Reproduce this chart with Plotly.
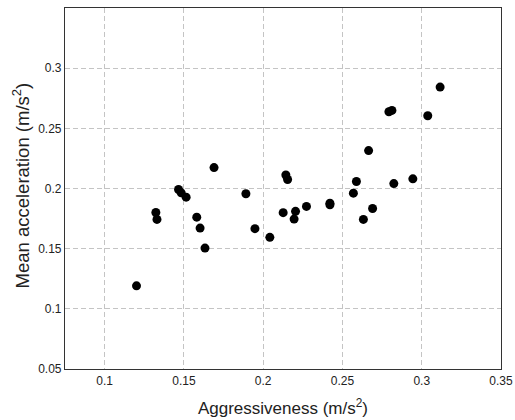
import plotly.graph_objects as go

aggressiveness = [0.1201, 0.1323, 0.1330, 0.1466, 0.1483, 0.1514, 0.1581, 0.1602,
                  0.1633, 0.1690, 0.1891, 0.1948, 0.2042, 0.2126, 0.2143, 0.2154,
                  0.2195, 0.2204, 0.2273, 0.2421, 0.2421, 0.2569, 0.2588, 0.2632,
                  0.2665, 0.2690, 0.2793, 0.2812, 0.2824, 0.2944, 0.3038, 0.3116]
mean_accel = [0.1191, 0.1801, 0.1743, 0.1992, 0.1964, 0.1928, 0.1762, 0.1671,
              0.1505, 0.2174, 0.1956, 0.1666, 0.1594, 0.1799, 0.2112, 0.2075,
              0.1746, 0.1810, 0.1851, 0.1878, 0.1865, 0.1961, 0.2058, 0.1743,
              0.2315, 0.1834, 0.2638, 0.2649, 0.2041, 0.2080, 0.2605, 0.2843]

x_ticks = [0.1, 0.15, 0.2, 0.25, 0.3, 0.35]
y_ticks = [0.05, 0.1, 0.15, 0.2, 0.25, 0.3]

fig = go.Figure(go.Scatter(
    x=aggressiveness, y=mean_accel, mode="markers",
    marker=dict(color="black", size=9, line=dict(width=0)),
    showlegend=False,
))

font = "Liberation Sans, Arial, Helvetica, sans-serif"
axis_common = dict(
    showgrid=True, gridcolor="#c4c4c4", griddash="5px,3px", gridwidth=1,
    showline=True, linecolor="#333333", linewidth=1.2, mirror=True,
    ticks="", zeroline=False, automargin=False,
    tickfont=dict(family=font, size=12, color="#222222"),
)

fig.update_layout(
    width=515, height=420,
    margin=dict(l=65, r=14, t=8, b=51, autoexpand=False),
    paper_bgcolor="white", plot_bgcolor="white",
    font=dict(family=font),
    xaxis=dict(range=[0.075, 0.35], tickvals=x_ticks,
               ticktext=[f"{v:g}" for v in x_ticks],
               title=dict(text="Aggressiveness (m/s<sup>2</sup>)",
                          font=dict(family=font, size=17, color="#222222")),
               **axis_common),
    yaxis=dict(range=[0.05, 0.35], tickvals=y_ticks,
               ticktext=[f"{v:g}" for v in y_ticks],
               **axis_common),
    annotations=[dict(
        text="Mean acceleration (m/s<sup>2</sup>)", textangle=-90,
        xref="paper", yref="paper", x=0, y=0.5, xanchor="center", yanchor="middle",
        xshift=-44, yshift=3, showarrow=False,
        font=dict(family=font, size=18.5, color="#222222"),
    )],
)

fig.write_html("out.html", config={"displayModeBar": False},
               post_script="document.body.style.margin='0';document.body.style.overflow='hidden';")
